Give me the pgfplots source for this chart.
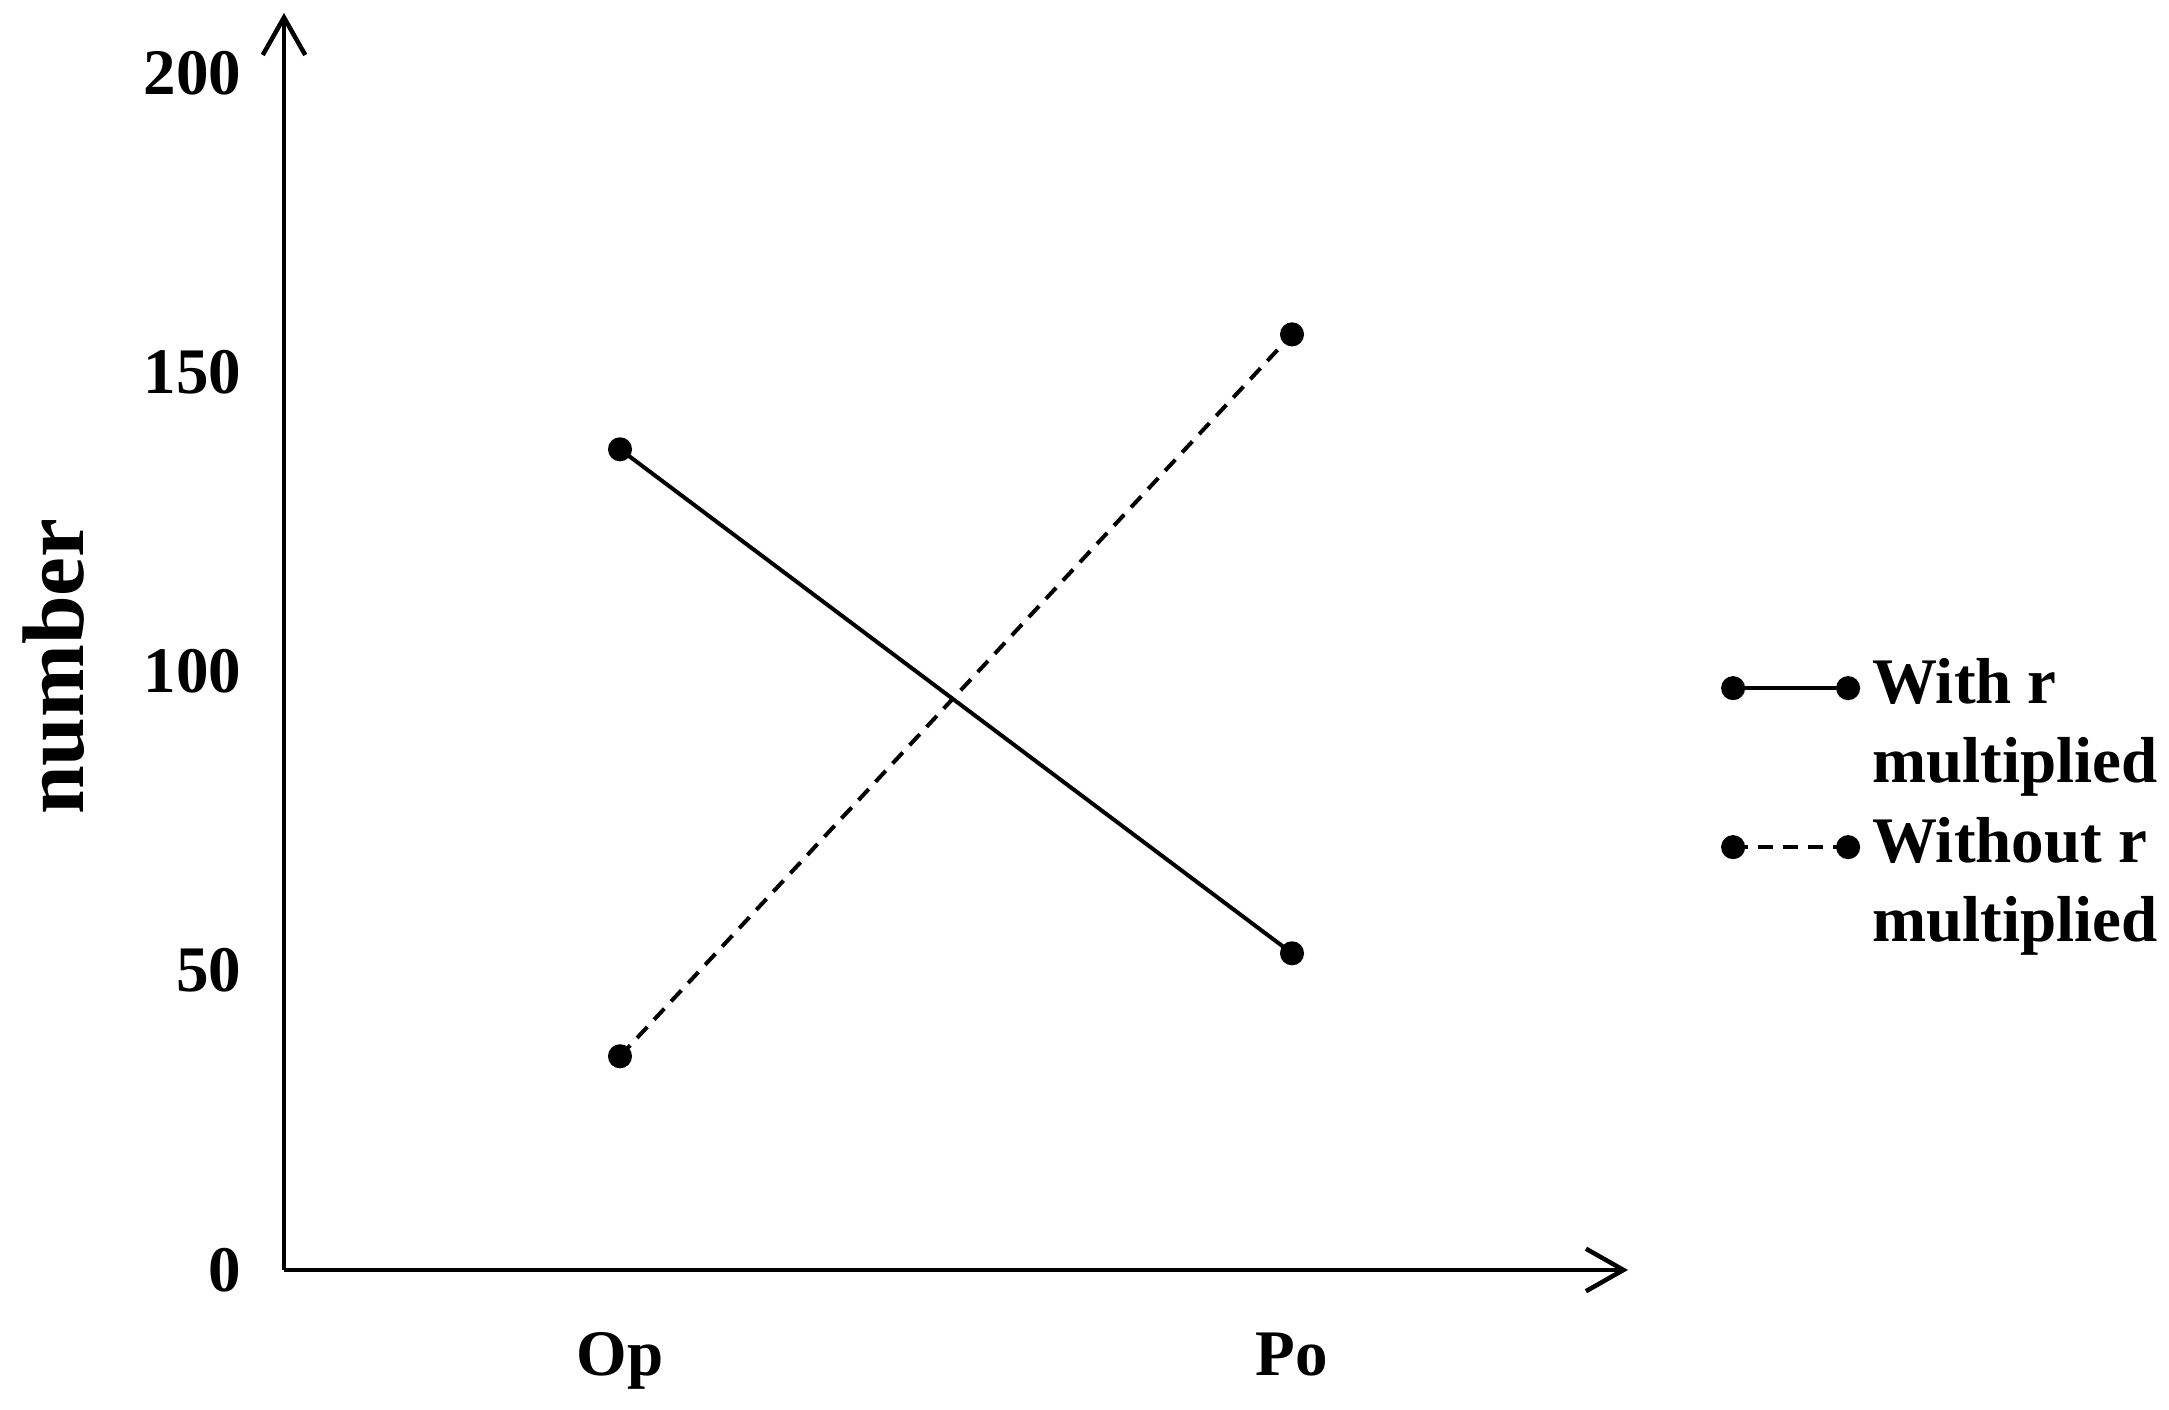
\documentclass[border=0pt]{standalone}
\usepackage{fontspec}
\setmainfont{Liberation Serif}
\usepackage{pgfplots}
\pgfplotsset{compat=1.18}
\usetikzlibrary{arrows.meta}

\begin{document}
\begin{tikzpicture}
\begin{axis}[
  scale only axis,
  width=268.8pt, height=251.4pt,
  axis lines=left,
  axis line style={line width=0.9pt, -{Straight Barb[length=7.5pt,width=8.5pt,line width=0.9pt]}},
  xmin=0.5, xmax=2.5,
  ymin=0, ymax=210,
  xtick={1,2}, xticklabels={Op,Po},
  ytick={0,50,100,150,200},
  major tick length=0pt,
  /pgf/number format/assume math mode=true,
  tick label style={font=\fontsize{13}{15}\selectfont\bfseries},
  xticklabel style={yshift=-9pt},
  yticklabel style={xshift=-5pt},
  ylabel={number},
  ylabel style={font=\fontsize{17.5}{20}\selectfont\bfseries,
                at={(axis description cs:-0.171,0.48)}, anchor=center},
  legend style={draw=none, fill=none, at={(1.07,0.368)}, anchor=west,
                inner sep=0pt, column sep=2.8pt, row sep=0pt,
                nodes={inner sep=0pt, text height=11pt, text depth=4.9pt},
                font=\fontsize{13}{16}\selectfont\bfseries},
  legend cell align=left,
  legend image code/.code={\draw[#1] plot coordinates {(0pt,0pt) (23pt,0pt)};},
  clip=false,
]
\addplot[black, line width=0.8pt, mark=*, mark size=2pt]
  coordinates {(1,137.1) (2,52.9)};
\addlegendentry{With r}
\addlegendimage{empty legend}
\addlegendentry{multiplied}

\addplot[black, line width=0.8pt, dash pattern=on 3pt off 2pt,
         mark=*, mark size=2pt, mark options={solid}]
  coordinates {(1,35.7) (2,156.3)};
\addlegendentry{Without r}
\addlegendimage{empty legend}
\addlegendentry{multiplied}

% keep the page the same size as the reference
\path (rel axis cs:-0.2113,-0.1114) rectangle (rel axis cs:1.4025,1.0103);
\end{axis}
\end{tikzpicture}
\end{document}
